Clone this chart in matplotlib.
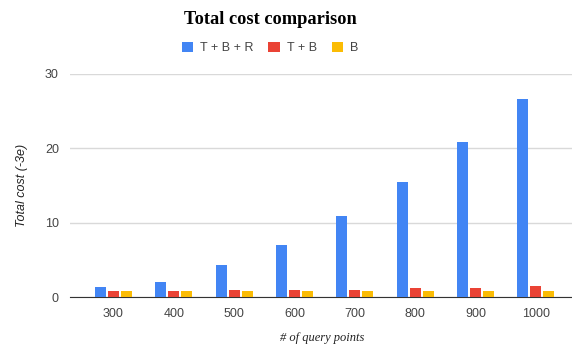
import matplotlib.pyplot as plt
import numpy as np

# datos
puntos = ['300', '400', '500', '600', '700', '800', '900', '1000']
tbr = [1.35, 2.05, 4.3, 7.0, 10.9, 15.5, 20.9, 26.6]
tb = [0.8, 0.8, 0.95, 0.95, 0.95, 1.25, 1.25, 1.5]
b = [0.75, 0.75, 0.75, 0.75, 0.75, 0.75, 0.75, 0.75]

series = [('T + B + R', tbr, '#4285F4'), ('T + B', tb, '#EA4335'), ('B', b, '#FBBC04')]

fig = plt.figure(figsize=(5.72, 3.47), dpi=100)
ax = fig.add_axes([70 / 572, 50 / 347, 502 / 572, 223 / 347])

x = np.arange(len(puntos))
ancho = 0.18
paso = 0.215
for i, (nombre, valores, color) in enumerate(series):
    ax.bar(x + (i - 1) * paso, valores, width=ancho, color=color, label=nombre, zorder=3)

ax.set_ylim(0, 30)
ax.set_xlim(-0.72, 7.6)
ax.set_yticks([0, 10, 20, 30])
ax.set_xticks(x)
ax.set_xticklabels(puntos)
ax.grid(axis='y', color='#d9d9d9', linewidth=1, zorder=0)
for lado in ['top', 'right', 'left']:
    ax.spines[lado].set_visible(False)
ax.spines['bottom'].set_color('#333333')
ax.tick_params(length=0, labelsize=9, labelcolor='#444444', pad=8)
for t in ax.get_xticklabels() + ax.get_yticklabels():
    t.set_family('Liberation Sans')

fig.text(270 / 572, 0.945, 'Total cost comparison', ha='center', va='center',
         family='Liberation Serif', fontweight='bold', fontsize=13.2)
fig.text(22 / 572, 1 - 185 / 347, 'Total cost (-3e)', rotation=90, ha='center', va='center',
         family='Liberation Sans', style='italic', fontsize=9, color='#222222')
fig.text(322 / 572, 1 - 338 / 347, '# of query points', ha='center', va='center',
         family='Liberation Serif', style='italic', fontsize=9, color='#222222')

leg = fig.legend(loc='center', bbox_to_anchor=(270 / 572, 1 - 48 / 347), ncol=3, frameon=False,
                 prop={'family': 'Liberation Sans', 'size': 9}, handlelength=0.9,
                 handleheight=0.9, columnspacing=1.2, handletextpad=0.55)
for t in leg.get_texts():
    t.set_color('#444444')

fig.savefig('out.png', dpi=100)
